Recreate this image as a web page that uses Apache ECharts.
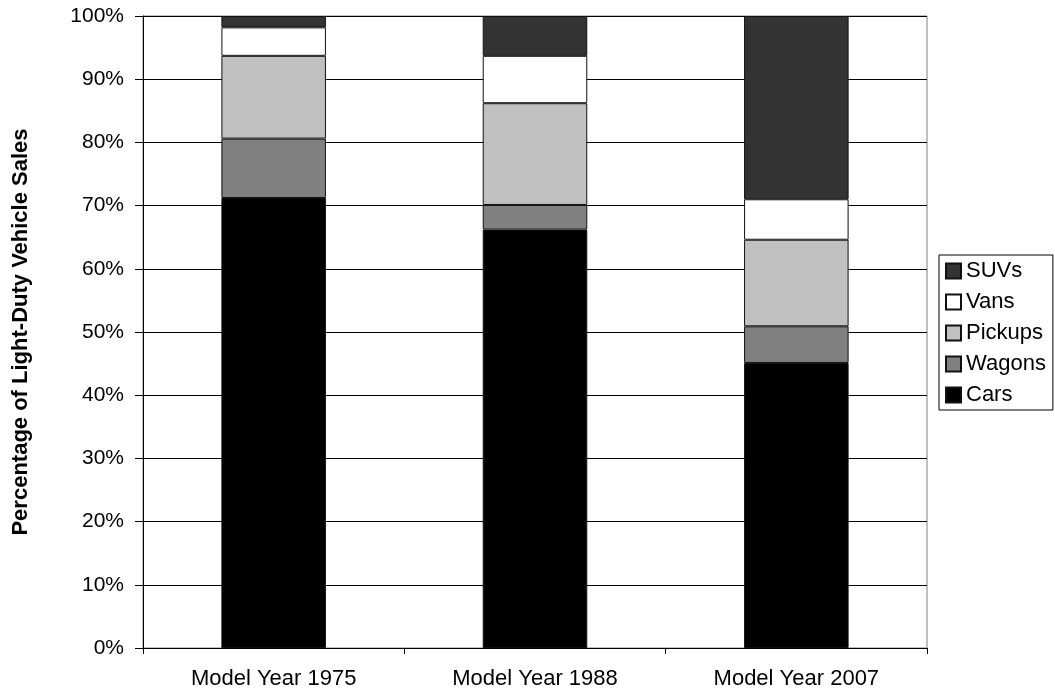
<!DOCTYPE html>
<html>
<head>
<meta charset="utf-8">
<script src="https://cdn.jsdelivr.net/npm/echarts@6/dist/echarts.min.js"></script>
<style>
html,body{margin:0;padding:0;background:#fff;}
#chart{width:1055px;height:692px;}
</style>
</head>
<body>
<div id="chart"></div>
<script>
var categories = ['Model Year 1975', 'Model Year 1988', 'Model Year 2007'];
var cars = [71.2, 66.2, 45.1];
var wagons = [9.4, 3.9, 5.8];
var pickups = [13.1, 16.1, 13.7];
var vans = [4.5, 7.5, 6.4];
var suvs = [1.8, 6.3, 29.0];
var legendOrder = ['SUVs', 'Vans', 'Pickups', 'Wagons', 'Cars'];

var FONT = '"Liberation Sans", Arial, sans-serif';
function mk(name, data, color) {
  return {
    name: name, type: 'bar', stack: 'total', data: data,
    barCategoryGap: '60%',
    itemStyle: { color: color, borderColor: '#111', borderWidth: 1 },
    emphasis: { disabled: true }
  };
}
var chart = echarts.init(document.getElementById('chart'), null, { renderer: 'canvas' });
chart.setOption({
  animation: false,
  backgroundColor: '#fff',
  textStyle: { fontFamily: FONT, color: '#000' },
  grid: { left: 143, right: 128, top: 16, bottom: 44, show: true, borderColor: '#808080', borderWidth: 1, backgroundColor: 'transparent' },
  legend: {
    orient: 'vertical', left: 939, top: 255,
    data: legendOrder,
    icon: 'rect',
    itemWidth: 15, itemHeight: 15, itemGap: 9, itemTextGap: 4,
    padding: [5, 7, 4, 6],
    borderColor: '#000', borderWidth: 1,
    textStyle: { fontFamily: FONT, fontSize: 22, color: '#000', lineHeight: 21 },
    selectedMode: false
  },
  xAxis: {
    type: 'category', data: categories,
    axisLine: { lineStyle: { color: '#000', width: 1 } },
    axisTick: { show: true, length: 6, lineStyle: { color: '#000' }, alignWithLabel: false },
    axisLabel: { fontFamily: FONT, fontSize: 22, color: '#000', margin: 20 },
    splitLine: { show: false }
  },
  yAxis: {
    type: 'value', min: 0, max: 100, interval: 10,
    name: 'Percentage of Light-Duty Vehicle Sales',
    nameLocation: 'middle', nameGap: 111,
    nameTextStyle: { fontFamily: FONT, fontSize: 22, fontWeight: 'bold', color: '#000' },
    axisLine: { show: true, lineStyle: { color: '#000', width: 1 } },
    axisTick: { show: true, length: 8, lineStyle: { color: '#000' } },
    axisLabel: { fontFamily: FONT, fontSize: 21, color: '#000', margin: 19, formatter: '{value}%' },
    splitLine: { show: true, lineStyle: { color: '#000', width: 1 } }
  },
  series: [
    mk('Cars', cars, '#000000'),
    mk('Wagons', wagons, '#808080'),
    mk('Pickups', pickups, '#c0c0c0'),
    mk('Vans', vans, '#ffffff'),
    mk('SUVs', suvs, '#333333')
  ]
});
</script>
</body>
</html>
